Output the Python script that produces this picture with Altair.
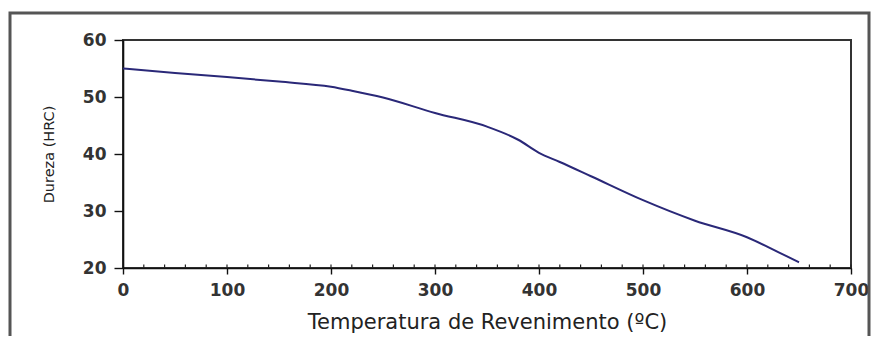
import altair as alt
import pandas as pd

# Data
temps = [0, 50, 100, 150, 200, 220, 250, 300, 350, 380, 400, 420, 450, 500, 550, 600, 630, 650]
hardness = [55.0, 54.2, 53.5, 52.7, 51.8, 51.1, 49.9, 47.2, 44.8, 42.5, 40.2, 38.6, 36.1, 31.9, 28.3, 25.4, 22.8, 21.0]
x_ticks = [0, 100, 200, 300, 400, 500, 600, 700]
x_minor = list(range(20, 701, 20))
y_ticks = [20, 30, 40, 50, 60]

W, H = 728, 228

df = pd.DataFrame({"t": temps, "h": hardness})
minor_df = pd.DataFrame({"t": x_minor})

x_scale = alt.Scale(domain=[0, 700], nice=False, zero=False)
y_scale = alt.Scale(domain=[20, 60], nice=False, zero=False)

common = dict(
    grid=False, domainColor="#111", domainWidth=1.6, tickColor="#111", tickWidth=1.4,
    labelFont="DejaVu Sans", labelFontSize=17, labelFontWeight="bold", labelColor="#333",
    labelFlush=False, labelOverlap=False,
    titleFont="DejaVu Sans", titleFontWeight="normal", titleColor="#222",
)

line = alt.Chart(df).mark_line(color="#2a2878", strokeWidth=2, interpolate="monotone").encode(
    x=alt.X("t:Q", scale=x_scale,
            axis=alt.Axis(values=x_ticks, title="Temperatura de Revenimento (ºC)",
                          tickSize=6, labelPadding=8, titleFontSize=21,
                          titleX=W / 2, titleY=54, titleBaseline="middle",
                          titleAlign="center", **common)),
    y=alt.Y("h:Q", scale=y_scale,
            axis=alt.Axis(values=y_ticks, title="Dureza (HRC)",
                          tickSize=9, labelPadding=8, titleFontSize=14.5,
                          titleX=-74, titleY=H / 2, titleAngle=-90,
                          titleBaseline="middle", titleAlign="center", **common)),
)

minor = alt.Chart(minor_df).mark_rule(color="#222", strokeWidth=1.2).encode(
    x=alt.X("t:Q", scale=x_scale),
    y=alt.value(H - 3.5),
    y2=alt.value(H),
)

frame = alt.Chart(pd.DataFrame({"a": [0]})).mark_rect(
    fill=None, stroke="#555", strokeWidth=3
).encode(
    x=alt.value(-113), x2=alt.value(746), y=alt.value(-27), y2=alt.value(330)
)

chart = alt.layer(frame, minor, line).properties(
    width=W, height=H,
    background="white",
    autosize=alt.AutoSizeParams(type="none"),
    padding={"left": 115, "top": 32, "right": 20, "bottom": 68},
).configure_view(
    stroke="#333", strokeWidth=2
)

chart.save("out.html", embed_options={"renderer": "svg", "actions": False})
